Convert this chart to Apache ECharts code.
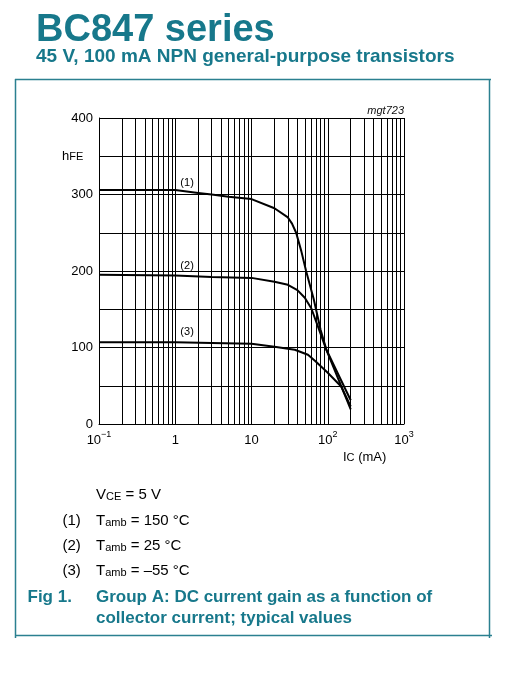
<!DOCTYPE html>
<html><head><meta charset="utf-8">
<script src="https://cdn.jsdelivr.net/npm/echarts@6/dist/echarts.min.js"></script>
<style>html,body{margin:0;padding:0;background:#fff}#c{width:516px;height:678px}</style>
</head><body><div id="c"></div>
<script>
// ---- data (IC in mA, hFE) ----
const curve150 = [[0.1,306],[1,306],[2,302],[3,300],[5,297],[10,294],[20,282],[30,270],[34,262],[38.5,250],[45,226],[52,200],[65.5,163],[80.7,123],[96,97],[200,19]];
const curve25  = [[0.1,195],[1,194],[3,192],[10,191],[20,186],[30,182],[40,175],[50,165],[61,151],[96,97],[200,31]];
const curveM55 = [[0.1,107],[1,107],[3,106],[10,105],[20,101],[37,97],[55,90.5],[69,82],[100,67],[150,49],[200,23]];
const curveTags = ['(1)','(2)','(3)'];
const tagAnchors = [[1.43,315],[1.43,206],[1.43,120]];
const tempsC = ['150','25','\u201355'];
const yTickLabels = [0,100,200,300,400];
const xDecades = [0.1,1,10,100,1000];

const FF = '"Liberation Sans", Arial, Helvetica, sans-serif';
const TEAL = '#17788b';
const FRAME = '#2b8090';

// minor log gridlines 2..9 in each decade
const minorX = [];
for (let d = 0; d < xDecades.length - 1; d++) {
  for (let k = 2; k <= 9; k++) minorX.push(+(xDecades[d] * k).toPrecision(3));
}

const chart = echarts.init(document.getElementById('c'), null, {renderer: 'canvas'});

function curveSeries(name, data, idx, extra) {
  return Object.assign({
    name: name, type: 'line', data: data, showSymbol: false, symbol: 'none',
    smooth: false, silent: true, z: 5,
    lineStyle: {color: '#000', width: 2, join: 'round'},
    markPoint: {
      symbol: 'circle', symbolSize: 0, silent: true, animation: false,
      data: [{coord: tagAnchors[idx]}],
      label: {show: true, position: 'inside', formatter: curveTags[idx], color: '#000', fontSize: 11, fontFamily: FF}
    }
  }, extra || {});
}

const legendRich = {
  m: {fontSize: 15, lineHeight: 20, verticalAlign: 'bottom', fontFamily: FF, fill: '#000', color: '#000'},
  s: {fontSize: 11, lineHeight: 11, verticalAlign: 'bottom', fontFamily: FF, fill: '#000', color: '#000'}
};
const labRich = {
  m: {fontSize: 13, lineHeight: 18, verticalAlign: 'bottom', fontFamily: FF, fill: '#000', color: '#000'},
  s: {fontSize: 11, lineHeight: 11, verticalAlign: 'bottom', fontFamily: FF, fill: '#000', color: '#000'}
};

const graphics = [
  {type: 'text', x: 36, y: 30.5, style: {text: 'BC847 series', font: 'bold 38px ' + FF, fill: TEAL, align: 'left', verticalAlign: 'middle'}},
  {type: 'text', x: 36, y: 56.7, style: {text: '45 V, 100 mA NPN general-purpose transistors', font: 'bold 19px ' + FF, fill: TEAL, align: 'left', verticalAlign: 'middle'}},
  {type: 'line', shape: {x1: 15, y1: 79.5, x2: 491, y2: 79.5}, style: {stroke: FRAME, lineWidth: 1.5}},
  {type: 'line', shape: {x1: 15.5, y1: 79, x2: 15.5, y2: 638}, style: {stroke: FRAME, lineWidth: 1.5}},
  {type: 'line', shape: {x1: 489.5, y1: 79, x2: 489.5, y2: 638}, style: {stroke: FRAME, lineWidth: 1.5}},
  {type: 'line', shape: {x1: 15, y1: 635.5, x2: 492, y2: 635.5}, style: {stroke: FRAME, lineWidth: 1.5}},
  {type: 'text', x: 404, y: 111, style: {text: 'mgt723', font: 'italic 11px ' + FF, fill: '#111', align: 'right', verticalAlign: 'middle'}},
  {type: 'text', x: 62, y: 153.8, style: {text: '{m|h}{s|FE}', rich: labRich, align: 'left', verticalAlign: 'middle'}},
  {type: 'text', x: 343, y: 454.5, style: {text: '{m|I}{s|C}{m| (mA)}', rich: labRich, align: 'left', verticalAlign: 'middle'}},
  {type: 'text', x: 96, y: 492.8, style: {text: '{m|V}{s|CE}{m| = 5 V}', rich: legendRich, align: 'left', verticalAlign: 'middle'}},
  {type: 'text', x: 27.5, y: 597.5, style: {text: 'Fig 1.', font: 'bold 17px ' + FF, fill: TEAL, align: 'left', verticalAlign: 'middle'}},
  {type: 'text', x: 96, y: 597.5, style: {text: 'Group A: DC current gain as a function of', font: 'bold 17px ' + FF, fill: TEAL, align: 'left', verticalAlign: 'middle'}},
  {type: 'text', x: 96, y: 618.3, style: {text: 'collector current; typical values', font: 'bold 17px ' + FF, fill: TEAL, align: 'left', verticalAlign: 'middle'}}
];
const legendY = [518, 543, 568];
tempsC.forEach(function (t, i) {
  graphics.push({type: 'text', x: 62.5, y: legendY[i], style: {text: '{m|' + curveTags[i] + '}', rich: legendRich, align: 'left', verticalAlign: 'middle'}});
  graphics.push({type: 'text', x: 96, y: legendY[i], style: {text: '{m|T}{s|amb}{m| = ' + t + ' \u00B0C}', rich: legendRich, align: 'left', verticalAlign: 'middle'}});
});

const option = {
  animation: false,
  backgroundColor: '#fff',
  textStyle: {fontFamily: FF},
  grid: {left: 99, top: 118, width: 305, height: 306, containLabel: false},
  xAxis: {
    type: 'log', logBase: 10, min: xDecades[0], max: xDecades[xDecades.length - 1],
    axisLine: {show: true, lineStyle: {color: '#000', width: 1}},
    axisTick: {show: false},
    splitLine: {show: true, lineStyle: {color: '#000', width: 1}},
    axisLabel: {
      margin: 6, color: '#000', showMinLabel: true, showMaxLabel: true,
      formatter: function (v) {
        const e = Math.round(Math.log10(v));
        if (e === 0) return '{b|1}';
        if (e === 1) return '{b|10}';
        const sup = e < 0 ? '\u2212' + (-e) : String(e);
        return '{b|10}{s|' + sup + '}';
      },
      rich: {
        b: {fontSize: 13, lineHeight: 17, verticalAlign: 'bottom', fontFamily: FF, color: '#000'},
        s: {fontSize: 9, lineHeight: 10, verticalAlign: 'top', fontFamily: FF, color: '#000'}
      }
    }
  },
  yAxis: {
    type: 'value', min: yTickLabels[0], max: yTickLabels[yTickLabels.length - 1], interval: 50,
    axisLine: {show: true, lineStyle: {color: '#000', width: 1}},
    axisTick: {show: false},
    splitLine: {show: true, lineStyle: {color: '#000', width: 1}},
    axisLabel: {
      margin: 6, color: '#000', fontSize: 13, fontFamily: FF,
      formatter: function (v) { return yTickLabels.indexOf(v) >= 0 ? String(v) : ''; }
    }
  },
  series: [
    curveSeries('150', curve150, 0, {
      markLine: {
        silent: true, animation: false, symbol: ['none', 'none'],
        label: {show: false},
        lineStyle: {color: '#000', width: 1, type: 'solid'},
        emphasis: {disabled: true},
        data: minorX.map(function (v) { return {xAxis: v}; })
      }
    }),
    curveSeries('25', curve25, 1),
    curveSeries('-55', curveM55, 2)
  ],
  graphic: graphics
};
chart.setOption(option);
</script>
</body></html>
